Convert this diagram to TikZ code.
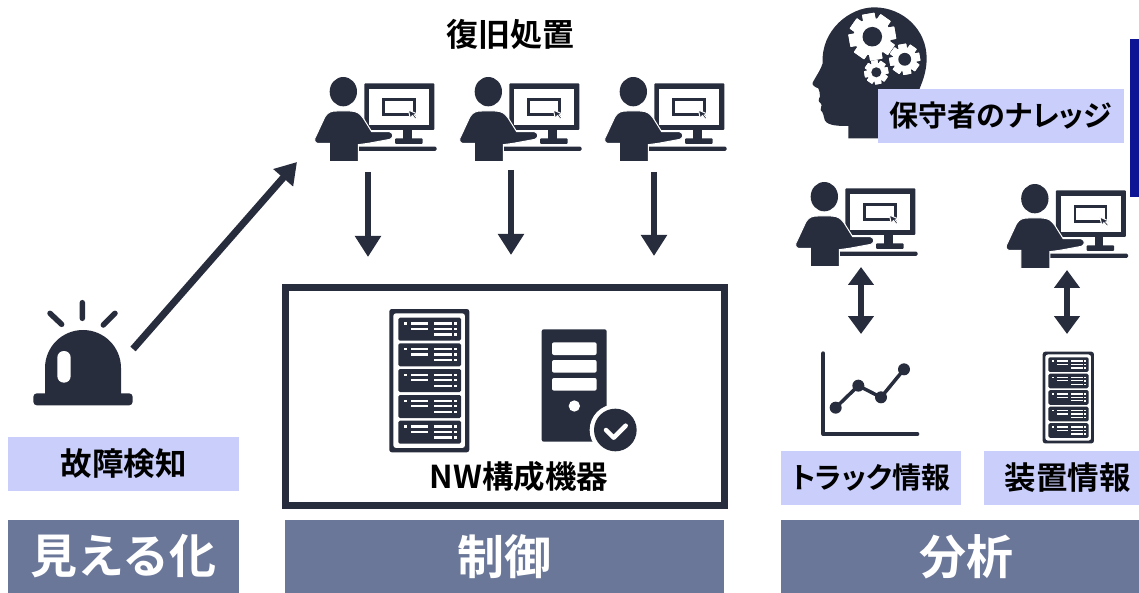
\documentclass[tikz,border=0pt]{standalone}
\usepackage{fontspec}
\setmainfont{Noto Sans CJK JP}[BoldFont={Noto Sans CJK JP Bold}]
\newfontfamily\tightcjk{Noto Sans CJK JP}[BoldFont={Noto Sans CJK JP Bold},RawFeature={+palt}]
\usetikzlibrary{arrows.meta}
\definecolor{icondark}{HTML}{272D3D}
\definecolor{labelblue}{HTML}{C9CEFA}
\definecolor{barblue}{HTML}{6B7799}
\definecolor{edgeblue}{HTML}{0D1594}
\tikzset{
	icon/.style={fill=icondark},
	hole/.style={fill=white},
	labelbox/.style={fill=labelblue,inner sep=0pt,font=\bfseries\fontsize{31.5}{32}\selectfont},
	titlebar/.style={fill=barblue,text=white,inner sep=0pt,minimum height=73pt,font=\bfseries\fontsize{47}{47}\selectfont},
	flow/.style={draw=icondark,line width=6pt,-{Triangle[length=21pt,width=25pt]}},
	both/.style={draw=icondark,line width=6pt,{Triangle[length=18pt,width=25pt]}-{Triangle[length=18pt,width=25pt]}},
	operator/.pic={
		\begin{scope}[scale=1/3]
		\fill[icon] (130,95) ellipse (41 and 44);
		\fill[icon,rounded corners=1pt] (193,70) rectangle (403,210);
		\fill[hole] (207,87) rectangle (388,195);
		\fill[icon] (247,115) rectangle (347,167);
		\fill[hole] (254,122) rectangle (340,160);
		\fill[icon,draw=white,line width=1pt] (325,150) -- (352,162) -- (343,165) -- (352,175) -- (346,177) -- (337,167) -- (331,175) -- cycle;
		\fill[icon] (310,205) rectangle (335,240);
		\fill[icon,rounded corners=1pt] (285,235) rectangle (368,252);
		\fill[icon,rounded corners=1.5pt] (170,260) rectangle (410,273);
		\fill[icon,draw=white,line width=1pt] (88,305) -- (88,250) -- (52,250) .. controls (42,248) and (42,235) .. (48,228) -- (75,170) .. controls (85,155) and (95,153) .. (110,153) -- (150,153) .. controls (170,153) and (180,160) .. (190,175) -- (215,215) -- (268,215) .. controls (280,218) and (283,232) .. (270,238) -- (205,250) -- (175,254) -- (175,305) -- cycle;
		\end{scope}
	},
	rack/.pic={
		\fill[icon,rounded corners=2.5pt,even odd rule] (0,0) rectangle (80,143.3) (4,4.3) rectangle (75.7,139);
		\foreach \y in {8.7,34.3,60,86,111.7} {
			\fill[icon,rounded corners=1.5pt] (9,\y) rectangle (71.7,\y+23);
			\fill[hole] (15,\y+4.7) rectangle (18,\y+7);
			\foreach \ya in {4.7,10} \fill[hole] (21.7,\y+\ya) rectangle (39,\y+\ya+2.2);
			\foreach \ya in {4.7,10,15.6} {
				\fill[hole] (44.7,\y+\ya) rectangle (62.3,\y+\ya+2.2);
				\fill[hole] (64.7,\y+\ya) rectangle (67.3,\y+\ya+2.4);
			}
		}
	},
	tower/.pic={
		\begin{scope}[scale=1/3]
		\fill[icon,rounded corners=2pt] (515,118) rectangle (710,455);
		\foreach \y in {157,210,264} \fill[hole,rounded corners=2pt] (546,\y) rectangle (680,\y+38);
		\fill[hole] (613,348) circle (17);
		\fill[hole] (736,420) circle (77);
		\fill[icon] (736,420) circle (64);
		\draw[white,line width=4.5pt,line cap=round,line join=round] (708,420) -- (731,443) -- (767,407);
		\end{scope}
	},
	alarm/.pic={
		\begin{scope}[scale=1/3]
		\fill[icon] (75,320) -- (75,234) arc[start angle=180,end angle=0,x radius=114,y radius=-114] -- (303,320) -- cycle;
		\fill[icon,rounded corners=3.5pt] (40,310) rectangle (338,346);
		\fill[hole,rounded corners=6.5pt] (112,183) rectangle (152,278);
		\draw[icondark,line width=5.5pt,line cap=round] (187,38) -- (187,85) (90,70) -- (125,103) (285,70) -- (250,105);
		\end{scope}
	},
	chart/.pic={
		\begin{scope}[scale=1/3]
		\draw[icondark,line width=4pt,line cap=round,line join=round] (70,40) -- (70,282) -- (352,282);
		\draw[icondark,line width=3.5pt] (107,203) -- (175,137) -- (243,172) -- (312,88);
		\foreach \xa/\ya in {107/203,175/137,243/172,312/88} \fill[icon] (\xa,\ya) circle (18);
		\end{scope}
	},
	cog/.pic={
		\foreach \a in {0,45,...,315} \fill[hole,rotate=\a+10,rounded corners=0.5pt] (-0.27,-1) rectangle (0.27,1);
		\fill[hole] (0,0) circle (0.8);
		\fill[icon] (0,0) circle (0.42);
	},
	brain/.pic={
		\begin{scope}[scale=1/3]
		\fill[icon] (145,415) -- (145,378) .. controls (120,378) and (85,378) .. (75,362) .. controls (70,350) and (72,340) .. (62,330) .. controls (58,322) and (70,318) .. (62,310) .. controls (54,305) and (55,298) .. (60,290) .. controls (58,280) and (60,272) .. (55,265) .. controls (45,262) and (35,255) .. (38,248) .. controls (50,225) and (62,210) .. (68,190) .. controls (62,90) and (150,22) .. (222,22) .. controls (310,22) and (380,90) .. (380,175) .. controls (380,230) and (355,270) .. (345,300) -- (345,415) -- cycle;
		\end{scope}
	}
}
\begin{document}
\begin{tikzpicture}[x=1pt,y=-1pt]
	\useasboundingbox (0,0) rectangle (1139,593);

	% icons
	\pic at (300,60) {operator};
	\pic at (445,60) {operator};
	\pic at (590,60) {operator};
	\pic at (781,165) {operator};
	\pic at (991.5,167) {operator};
	\pic at (20,290) {alarm};
	\pic at (800,0) {brain};
	\pic[scale=23.3] at (872.3,36.7) {cog};
	\pic[scale=15.3] at (904.7,59.3) {cog};
	\pic[scale=12] at (876.3,72.3) {cog};
	\pic at (800,340) {chart};
	\pic at (389.3,309) {rack};
	\pic[scale=0.64] at (1042.7,351.7) {rack};
	\pic at (370,290) {tower};

	% frame and edge
	\node (frame) at (505,396.5) [draw=icondark,line width=7pt,minimum width=439pt,minimum height=218pt,inner sep=0pt]{};
	\node (edge) at (1134.5,118) [fill=edgeblue,minimum width=9pt,minimum height=158pt,inner sep=0pt]{};

	% labels
	\node (restore) at (510.5,34) [font=\bfseries\fontsize{32}{32}\selectfont]{復旧処置};
	\node (nw) at (519,477) [font=\bfseries\fontsize{31.5}{32}\selectfont]{NW構成機器};
	\node (detect) at (123.5,464) [labelbox,minimum width=231pt,minimum height=54pt]{故障検知};
	\node (know) at (1001,116) [labelbox,font=\tightcjk\bfseries\fontsize{29}{29}\selectfont,minimum width=246pt,minimum height=54pt]{保守者のナレッジ};
	\node (track) at (871,478) [labelbox,font=\tightcjk\bfseries\fontsize{29}{29}\selectfont,minimum width=180pt,minimum height=54pt]{トラック情報};
	\node (device) at (1061.5,478) [labelbox,minimum width=155pt,minimum height=54pt]{\hspace{12pt}装置情報};
	\node (see) at (123.5,556.5) [titlebar,minimum width=231pt]{見える化};
	\node (control) at (504.5,556.5) [titlebar,minimum width=439pt]{制御};
	\node (analyze) at (960,556.5) [titlebar,minimum width=358pt]{\hspace{12pt}分析};

	% arrow ends
	\coordinate (alarmtip) at (133,349);
	\coordinate (optip) at (297,162);
	\coordinate (opa) at (368,172);
	\coordinate (nwa) at (368,257);
	\coordinate (opb) at (511,170);
	\coordinate (nwb) at (511,255);
	\coordinate (opc) at (654,172);
	\coordinate (nwc) at (654,256);
	\coordinate (opd) at (861,267);
	\coordinate (chartd) at (861,334);
	\coordinate (ope) at (1067,270);
	\coordinate (racke) at (1067,334);

	\draw[flow,line width=7pt] (alarmtip) -- (optip);
	\draw[flow] (opa) -- (nwa);
	\draw[flow] (opb) -- (nwb);
	\draw[flow] (opc) -- (nwc);
	\draw[both] (opd) -- (chartd);
	\draw[both] (ope) -- (racke);
\end{tikzpicture}
\end{document}
